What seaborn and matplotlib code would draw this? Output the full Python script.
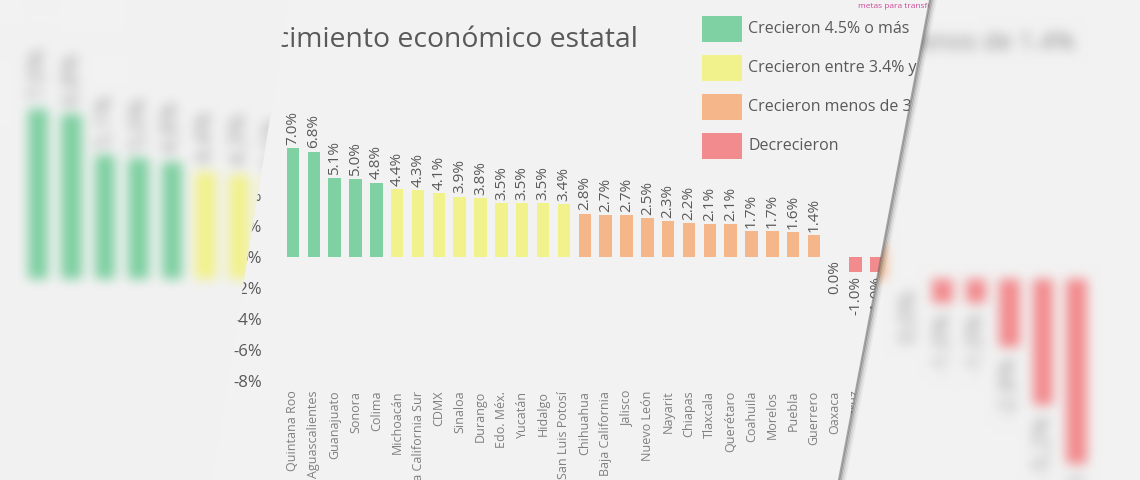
import numpy as np
import pandas as pd
import matplotlib.pyplot as plt
import seaborn as sns
from matplotlib.patches import Polygon, Rectangle
from matplotlib.lines import Line2D

# Style
sns.set_theme(style="white")
plt.rcParams['font.family'] = ['Open Sans', 'DejaVu Sans']

BG = '#f2f2f2'
TXT = '#595959'

# Data
states = ['Quintana Roo', 'Aguascalientes', 'Guanajuato', 'Sonora', 'Colima',
          'Michoacán', 'Baja California Sur', 'CDMX', 'Sinaloa', 'Durango',
          'Edo. Méx.', 'Yucatán', 'Hidalgo', 'San Luis Potosí', 'Chihuahua',
          'Baja California', 'Jalisco', 'Nuevo León', 'Nayarit', 'Chiapas',
          'Tlaxcala', 'Querétaro', 'Coahuila', 'Morelos', 'Puebla', 'Guerrero',
          'Oaxaca', 'Veracruz', 'Zacatecas', 'Tamaulipas', 'Tabasco', 'Campeche']
growth = [7.0, 6.8, 5.1, 5.0, 4.8,
          4.4, 4.3, 4.1, 3.9, 3.8, 3.5, 3.5, 3.5, 3.4,
          2.8, 2.7, 2.7, 2.5, 2.3, 2.2, 2.1, 2.1, 1.7, 1.7, 1.6, 1.4,
          0.0, -1.0, -1.0, -2.8, -5.2, -7.6]
legend_labels = ['Crecieron 4.5% o más', 'Crecieron entre 3.4% y 4.4%',
                 'Crecieron menos de 3.4%', 'Decrecieron']
group_colors = ['#7fd0a2', '#f2f28c', '#f5b78a', '#f28b8e']
title = 'Crecimiento económico estatal'


def group_of(v):
    if v >= 4.5:
        return legend_labels[0]
    elif v >= 3.4:
        return legend_labels[1]
    elif v > 0:
        return legend_labels[2]
    return legend_labels[3]


df = pd.DataFrame({'estado': states, 'crecimiento': growth})
df['grupo'] = df['crecimiento'].apply(group_of)


def draw_bars(ax, label_size, pad, label_color):
    sns.barplot(data=df, x='estado', y='crecimiento', hue='grupo',
                hue_order=legend_labels, order=states,
                palette=dict(zip(legend_labels, group_colors)),
                dodge=False, width=0.6, saturation=1, errorbar=None,
                legend=False, linewidth=0, edgecolor='none', ax=ax)
    for i, v in enumerate(df['crecimiento']):
        ax.text(i, v + pad if v > 0 else v - pad, f"{v:.1f}%", rotation=90,
                ha='center', va='bottom' if v > 0 else 'top',
                fontsize=label_size, color=label_color)


def blur(img, r, passes=3):
    out = img.copy()
    for _ in range(passes):
        for axis in (0, 1):
            pad = [(0, 0)] * 3
            pad[axis] = (r + 1, r)
            p = np.pad(out, pad, mode='edge')
            c = np.cumsum(p, axis=axis)
            n = out.shape[axis]
            hi = np.take(c, np.arange(2 * r + 1, 2 * r + 1 + n), axis=axis)
            lo = np.take(c, np.arange(0, n), axis=axis)
            out = (hi - lo) / (2 * r + 1)
    return out


def px(x):
    return x / 1140


def py(y):
    return 1 - y / 480


# Background: magnified copy of the chart, blurred
fig_bg = plt.figure(figsize=(11.4, 4.8), dpi=100, facecolor=BG)
axb = fig_bg.add_axes([0, 0, 1, 1])
axb.set_facecolor(BG)
draw_bars(axb, 17.5, 0.35, '#9a9a9a')
axb.set_xlim(-38 / 33.5, (1140 - 38) / 33.5)
axb.set_ylim(-(480 - 279) / 24.3, 279 / 24.3)
axb.axis('off')
fig_bg.text(px(1075), py(43), legend_labels[2].replace('3.4', '1.4'), ha='right',
            va='center', fontsize=18, color='#8c8c8c')
fig_bg.canvas.draw()
bg_img = np.asarray(fig_bg.canvas.buffer_rgba())[..., :3].astype(float) / 255
plt.close(fig_bg)
bg_img = np.clip(blur(bg_img, 5), 0, 1)

# Main figure
fig = plt.figure(figsize=(11.4, 4.8), dpi=100, facecolor=BG)

ax = fig.add_axes([px(280), py(381), 680 / 1140, 248 / 480])
ax.set_zorder(1)
ax.patch.set_visible(False)
draw_bars(ax, 11, 0.2, TXT)
ax.set_xlim((280 - 293) / 20.84, (960 - 293) / 20.84)
ax.set_ylim(-8, 8)
yt = list(range(-8, 9, 2))
ax.set_yticks(yt)
ax.set_yticklabels([f"{t}%" for t in yt], fontsize=12, color=TXT)
ax.set_xticks(range(len(states)))
ax.set_xticklabels(states, rotation=90, fontsize=9, color='#7f7f7f')
ax.tick_params(axis='x', length=0, pad=7)
ax.tick_params(axis='y', length=0, pad=13)
ax.set_xlabel('')
ax.set_ylabel('')
for s in ax.spines.values():
    s.set_visible(False)

# Title: size so that "imiento económico estatal" spans x 290..638
renderer = fig.canvas.get_renderer()
probe = fig.text(0, 0, title[4:], fontsize=20)
w = probe.get_window_extent(renderer).width
probe.remove()
fig.text(px(638), py(47), title, ha='right', va='baseline',
         fontsize=20 * 348 / w, color=TXT, zorder=2)
fig.text(px(858), py(7), 'metas para transformar', ha='left', va='center',
         fontsize=6, color='#d0489a', zorder=2)

# Legend
for k, (lab, col) in enumerate(zip(legend_labels, group_colors)):
    yc = 29 + 39 * k
    fig.add_artist(Rectangle((px(702), py(yc + 12.5)), 40 / 1140, 25 / 480,
                             transform=fig.transFigure, facecolor=col,
                             edgecolor='none', zorder=2))
    fig.text(px(748), py(yc), lab, ha='left', va='center', fontsize=11.5,
             color=TXT, zorder=2)

# Blurred background visible outside the page
ov = fig.add_axes([0, 0, 1, 1])
ov.set_zorder(10)
ov.set_facecolor('none')
ov.axis('off')
left_page = Polygon([(0, 1), (px(289), 1), (px(212), 0), (0, 0)],
                    closed=True, transform=fig.transFigure)
right_page = Polygon([(px(930), 1), (1, 1), (1, 0), (px(839), 0)],
                     closed=True, transform=fig.transFigure)
for clip in (left_page, right_page):
    im = ov.imshow(bg_img, aspect='auto', interpolation='nearest')
    im.set_clip_path(clip)

# Page edge shadow
for off, a in [(0, 0.5), (1.5, 0.35), (3, 0.2), (4.5, 0.1), (6, 0.05)]:
    fig.add_artist(Line2D([px(930 + off), px(839 + off)], [1, 0],
                          transform=fig.transFigure, color='#555555',
                          alpha=a, lw=1.5, zorder=11))

plt.savefig('out.png', dpi=100, facecolor=BG)
plt.close()
